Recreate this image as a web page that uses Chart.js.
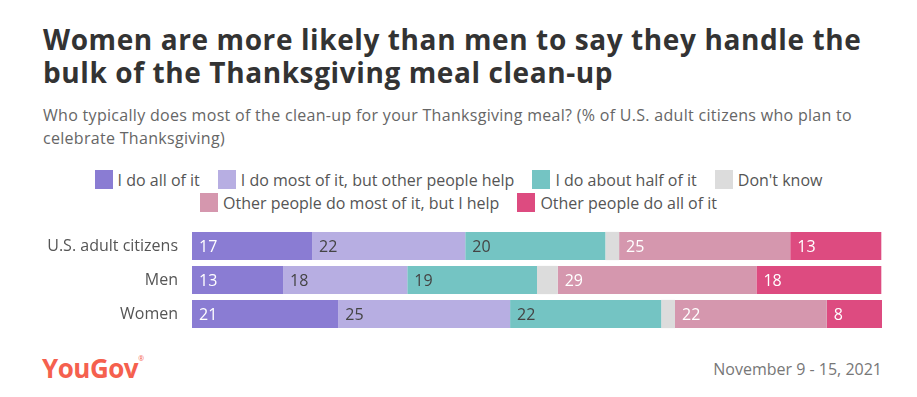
<!DOCTYPE html>
<html>
<head>
<meta charset="utf-8">
<script src="https://cdn.jsdelivr.net/npm/chart.js@4.4.0/dist/chart.umd.min.js"></script>
<style>
  html, body { margin: 0; padding: 0; background: #fff; }
  body { width: 917px; height: 397px; position: relative; overflow: hidden; font-family: "Open Sans", sans-serif; }
  #title { position: absolute; left: 43px; top: 23px; width: 850px; font-family: "Open Sans", sans-serif; font-weight: 700; font-size: 28px; line-height: 33px; color: #333; letter-spacing: 0.6px; }
  #subtitle { position: absolute; left: 43px; top: 104px; width: 830px; font-family: "Open Sans", sans-serif; font-weight: 400; font-size: 16px; line-height: 23px; color: #666; letter-spacing: 0.3px; }
  #legend { position: absolute; left: 0; top: 168px; width: 917px; font-family: "Open Sans", sans-serif; font-size: 16px; color: #555; }
  .lrow { display: flex; justify-content: center; height: 23px; align-items: center; }
  .litem { display: flex; align-items: center; margin: 0 9px; }
  .lbox { width: 18px; height: 19px; margin-right: 5px; }
  #wrap { position: absolute; left: 0; top: 229px; width: 917px; height: 102px; }
  #logo { position: absolute; left: 42px; top: 350px; font-family: "Liberation Sans Narrow", "Open Sans", sans-serif; font-weight: 700; font-size: 26px; letter-spacing: -0.5px; color: #f5604e; }
  #logo sup { font-size: 7px; vertical-align: top; position: relative; top: 4px; font-weight: 400; }
  #date { position: absolute; right: 35px; top: 358px; font-family: "Open Sans", sans-serif; font-size: 16px; color: #777; }
</style>
</head>
<body>
<div id="title">Women are more likely than men to say they handle the bulk of the Thanksgiving meal clean-up</div>
<div id="subtitle">Who typically does most of the clean-up for your Thanksgiving meal? (% of U.S. adult citizens who plan to celebrate Thanksgiving)</div>
<div id="legend"></div>
<div id="wrap"><canvas id="c" width="917" height="102"></canvas></div>
<div id="logo">YouGov<sup>®</sup></div>
<div id="date">November 9 - 15, 2021</div>
<script>
const categories = ["U.S. adult citizens", "Men", "Women"];
const seriesNames = ["I do all of it", "I do most of it, but other people help", "I do about half of it", "Don't know", "Other people do most of it, but I help", "Other people do all of it"];
const doAll = [17.4, 13.2, 21.2];
const doMost = [22.2, 18.0, 24.9];
const doHalf = [20.3, 18.8, 21.9];
const dontKnow = [2.0, 3.0, 2.0];
const othersMost = [24.8, 28.8, 22.0];
const othersAll = [13.2, 18.1, 8.0];
const colors = ["#8a7cd3", "#b7aee2", "#74c4c3", "#dcdcdc", "#d597ae", "#dd4b80"];
const labelColors = ["#ffffff", "#444444", "#444444", "#444444", "#ffffff", "#ffffff"];
const showLabel = [true, true, true, false, true, true];
const legendRows = [[0, 1, 2, 3], [4, 5]];

const seriesValues = [doAll, doMost, doHalf, dontKnow, othersMost, othersAll];

// HTML legend
const lg = document.getElementById('legend');
legendRows.forEach(r => {
  const row = document.createElement('div');
  row.className = 'lrow';
  r.forEach(i => {
    const it = document.createElement('div');
    it.className = 'litem';
    const b = document.createElement('div');
    b.className = 'lbox';
    b.style.background = colors[i];
    const t = document.createElement('span');
    t.textContent = seriesNames[i];
    it.appendChild(b); it.appendChild(t);
    row.appendChild(it);
  });
  lg.appendChild(row);
});

const datasets = seriesValues.map((vals, i) => ({
  label: seriesNames[i],
  data: vals,
  backgroundColor: colors[i],
  borderWidth: 0,
  barPercentage: 1,
  categoryPercentage: 0.83
}));

const valueLabels = {
  id: 'valueLabels',
  afterDatasetsDraw(chart) {
    const ctx = chart.ctx;
    ctx.save();
    ctx.font = '16px "Open Sans", sans-serif';
    ctx.textBaseline = 'middle';
    ctx.textAlign = 'left';
    chart.data.datasets.forEach((ds, di) => {
      if (!showLabel[di]) return;
      const meta = chart.getDatasetMeta(di);
      meta.data.forEach((bar, i) => {
        const v = ds.data[i];
        const left = Math.min(bar.x, bar.base);
        ctx.fillStyle = labelColors[di];
        ctx.fillText(String(Math.round(v)), left + 7, bar.y + 1);
      });
    });
    ctx.restore();
  }
};

new Chart(document.getElementById('c'), {
  type: 'bar',
  data: { labels: categories, datasets },
  options: {
    indexAxis: 'y',
    responsive: false,
    animation: false,
    layout: { padding: { left: 0, right: 35, top: 0, bottom: 0 } },
    plugins: { legend: { display: false }, tooltip: { enabled: false }, title: { display: false } },
    scales: {
      x: { stacked: true, min: 0, max: 100, display: false },
      y: {
        stacked: true,
        grid: { display: false },
        border: { display: false },
        ticks: { color: '#555', font: { family: '"Open Sans", sans-serif', size: 16 }, padding: 6 },
        afterFit(scale) { scale.width = 192; scale.paddingTop = 0; scale.paddingBottom = 0; }
      }
    }
  },
  plugins: [valueLabels]
});
</script>
</body>
</html>
